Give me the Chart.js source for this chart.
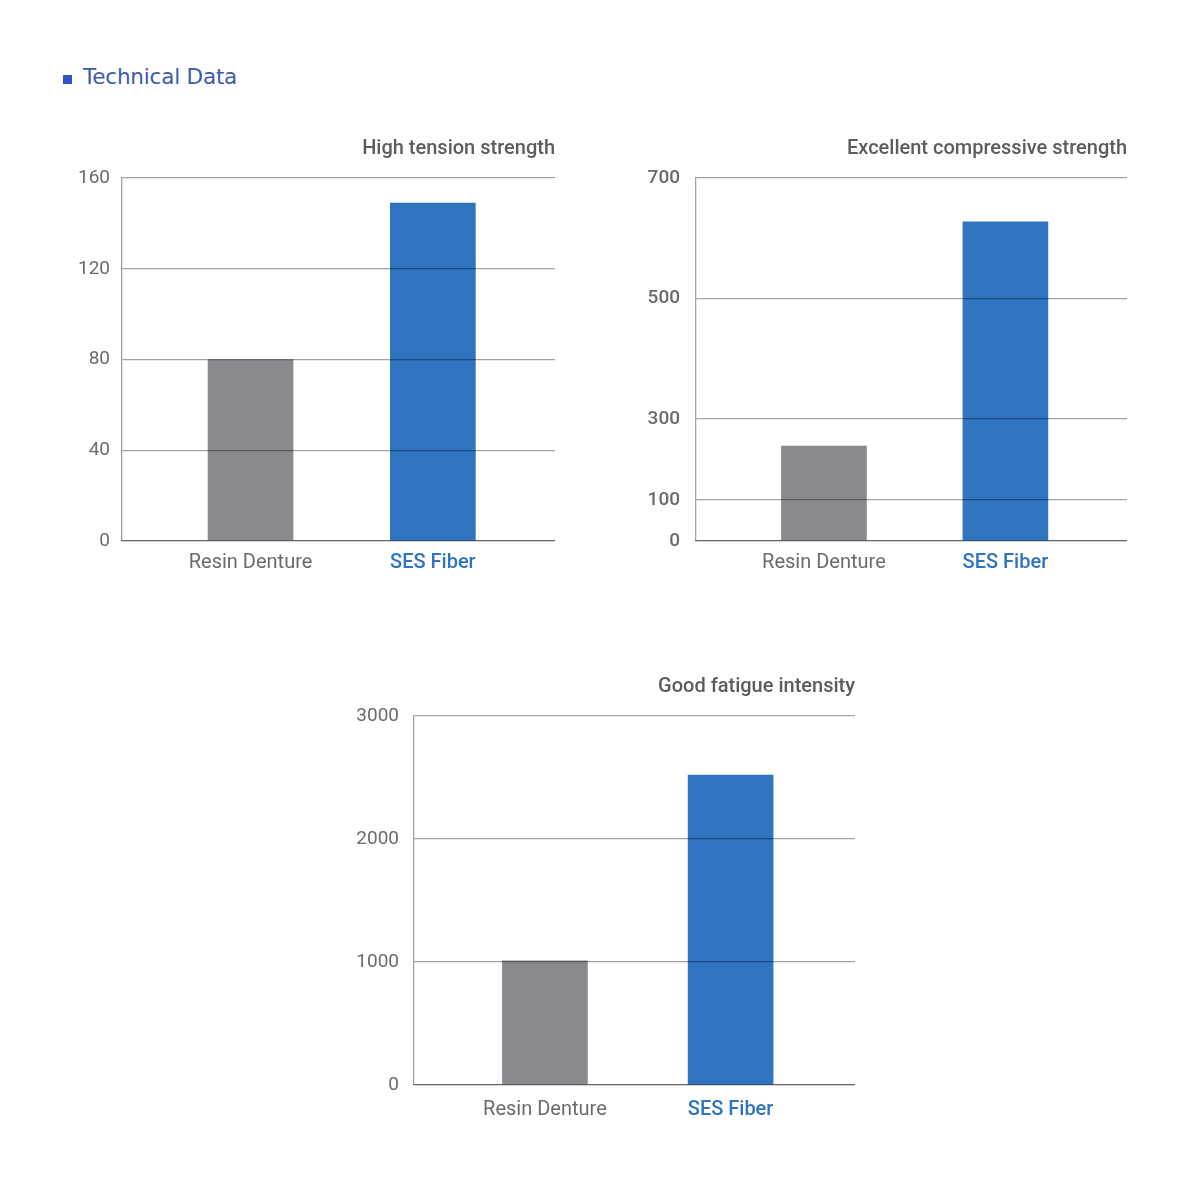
<!DOCTYPE html>
<html>
<head>
<meta charset="utf-8">
<script src="https://cdn.jsdelivr.net/npm/chart.js@4/dist/chart.umd.min.js"></script>
<style>
  html, body { margin: 0; padding: 0; background: #ffffff; }
  body { width: 1200px; height: 1200px; position: relative; overflow: hidden; }
  .header { position: absolute; left: 63px; top: 64px; font-family: "DejaVu Sans", sans-serif; font-size: 21.5px; color: #3d5aab; letter-spacing: -0.2px; }
  .header .sq { display: inline-block; width: 9px; height: 9px; background: #2f55c4; margin-right: 11px; vertical-align: 0px; }
  .box { position: absolute; }
</style>
</head>
<body>
<div class="header"><span class="sq"></span>Technical Data</div>
<div class="box" style="left:60px;top:130px;"><canvas id="c1" width="495" height="451"></canvas></div>
<div class="box" style="left:634px;top:130px;"><canvas id="c2" width="493" height="451"></canvas></div>
<div class="box" style="left:340px;top:668px;"><canvas id="c3" width="515" height="457"></canvas></div>
<script>
// ---- data ----
const categories = ['Resin Denture', 'SES Fiber'];
const tensionValues = [80, 149];
const compressiveValues = [233, 627];
const fatigueValues = [1010, 2520];
const tensionTicks = [0, 40, 80, 120, 160];
const compressiveTicks = [0, 100, 300, 500, 700];
const fatigueTicks = [0, 1000, 2000, 3000];
const chartTitles = ['High tension strength', 'Excellent compressive strength', 'Good fatigue intensity'];

// ---- styles / layout ----
const barColors = ['#898a8e', '#2e74bf'];
const labelColors = ['#6a6b6f', '#2e74bf'];
const gridColor = 'rgba(0,0,0,0.36)';
const tickColor = '#6a6b6f';
const titleColor = '#5b5c60';
// the compressive chart axis in the original is not evenly spaced: fraction of height for each tick
const compressiveTickFractions = [0, 0.113, 0.336, 0.669, 1];

const LinearScale = Chart.registry.getScale('linear');
class PiecewiseScale extends LinearScale {
  _dec(v) {
    const s = compressiveTicks, f = compressiveTickFractions;
    let i = 1;
    while (i < s.length - 1 && v > s[i]) i++;
    return f[i - 1] + (v - s[i - 1]) * (f[i] - f[i - 1]) / (s[i] - s[i - 1]);
  }
  getPixelForValue(value) {
    if (value === null || value === undefined || isNaN(value)) return NaN;
    return this.getPixelForDecimal(this._dec(value));
  }
  getValueForPixel(pixel) {
    const d = this.getDecimalForPixel(pixel);
    const s = compressiveTicks, f = compressiveTickFractions;
    let i = 1;
    while (i < f.length - 1 && d > f[i]) i++;
    return s[i - 1] + (d - f[i - 1]) * (s[i] - s[i - 1]) / (f[i] - f[i - 1]);
  }
}
PiecewiseScale.id = 'piecewise';
PiecewiseScale.defaults = LinearScale.defaults;
Chart.register(PiecewiseScale);

function makeChart(id, values, ticks, title, cfg) {
  const yScale = {
    type: cfg.yType || 'linear',
    min: ticks[0],
    max: ticks[ticks.length - 1],
    afterBuildTicks: s => { s.ticks = ticks.map(v => ({ value: v })); },
    afterFit: s => { s.width = cfg.yWidth; },
    grid: { color: gridColor, lineWidth: 1.3, drawTicks: false, z: 1 },
    border: { display: true, color: gridColor, width: 1.3, z: 1 },
    ticks: {
      padding: cfg.yPad,
      color: tickColor,
      font: { family: 'Roboto', size: 19, weight: cfg.tickWeight || 400 },
      callback: v => String(v)
    }
  };
  return new Chart(document.getElementById(id), {
    type: 'bar',
    data: {
      datasets: [{
        data: categories.map((c, i) => ({ x: i + 1, y: values[i] })),
        backgroundColor: barColors,
        borderWidth: 0,
        barThickness: 85
      }]
    },
    options: {
      responsive: false,
      animation: false,
      events: [],
      layout: { padding: { top: cfg.padTop, right: 0, left: 0, bottom: 0 } },
      plugins: {
        legend: { display: false },
        tooltip: { enabled: false },
        title: {
          display: true,
          text: title,
          align: 'end',
          color: titleColor,
          font: { family: 'Roboto', size: 20, weight: 500, lineHeight: 1.2 },
          padding: { top: 0, bottom: cfg.titleGap }
        }
      },
      scales: {
        x: {
          type: 'linear',
          offset: false,
          min: 0.295,
          max: 2.67,
          afterBuildTicks: s => { s.ticks = categories.map((c, i) => ({ value: i + 1 })); },
          afterFit: s => { s.height = 40; },
          grid: { display: false, drawTicks: false, offset: false },
          border: { display: true, color: gridColor, width: 1.3 },
          ticks: {
            padding: cfg.xPad,
            maxRotation: 0,
            autoSkip: false,
            color: c => labelColors[c.index],
            font: c => ({ family: 'Roboto', size: 20, weight: c.index === 1 ? 500 : 400 }),
            callback: v => categories[Math.round(v) - 1]
          }
        },
        y: yScale
      }
    }
  });
}

makeChart('c1', tensionValues, tensionTicks, chartTitles[0], { yWidth: 62, yPad: 12, padTop: 7, titleGap: 17, xPad: 10 });
makeChart('c2', compressiveValues, compressiveTicks, chartTitles[1], { yWidth: 62, yPad: 16, padTop: 7, titleGap: 17, xPad: 10, yType: 'piecewise', tickWeight: 500 });
makeChart('c3', fatigueValues, fatigueTicks, chartTitles[2], { yWidth: 74, yPad: 15, padTop: 7, titleGap: 17, xPad: 13 });
</script>
</body>
</html>
